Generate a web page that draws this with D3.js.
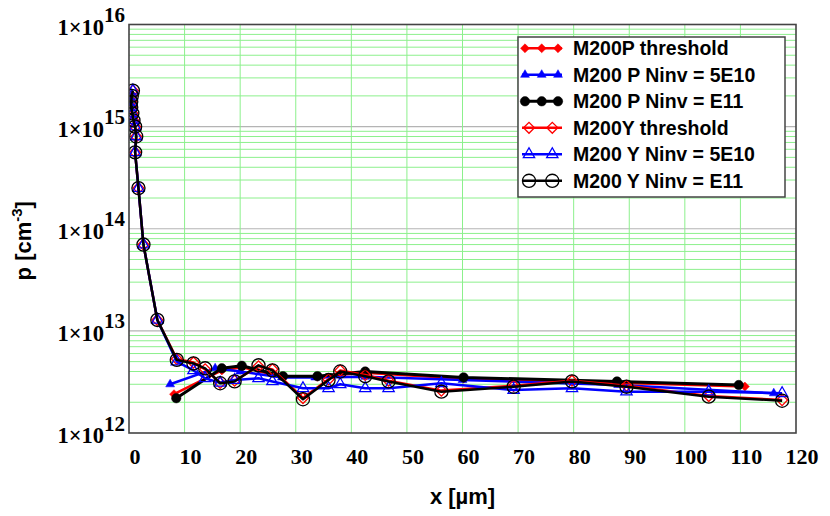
<!DOCTYPE html>
<html>
<head>
<meta charset="utf-8">
<script src="https://cdn.jsdelivr.net/npm/d3@7"></script>
<style>
  body { margin: 0; background: #fff; }
  svg { display: block; }
</style>
</head>
<body>
<svg id="chart" width="830" height="516"></svg>
<script>
// near-surface steep part shared by the Y profiles
const steepX = [0.7, 0.5, 0.4, 0.4, 0.6, 0.8, 1.1, 1.3, 1.1, 1.7, 2.6, 5.1];
const steepP = [2.25e15, 2.0e15, 1.75e15, 1.55e15, 1.35e15, 1.15e15, 1.0e15, 8.0e14, 5.6e14, 2.5e14, 7.0e13, 1.28e13];

const flatX = [8.6, 11.6, 13.7, 16.4, 19.0, 23.3, 25.8, 31.3, 35.9, 38.0, 42.5, 46.7, 56.2, 69.2, 79.7, 89.5, 104.3, 117.5];
const yE11P = [5.2e12, 4.8e12, 4.3e12, 3.07e12, 3.2e12, 4.6e12, 4.1e12, 2.14e12, 3.3e12, 4.0e12, 3.6e12, 3.2e12, 2.54e12, 2.84e12, 3.2e12, 2.84e12, 2.27e12, 2.07e12];
const yThrP = [5.3e12, 4.9e12, 4.2e12, 3.1e12, 3.25e12, 4.5e12, 4.2e12, 2.2e12, 3.35e12, 4.1e12, 3.7e12, 3.25e12, 2.6e12, 2.9e12, 3.25e12, 2.9e12, 2.3e12, 2.1e12];
const y5E10P = [5.0e12, 4.1e12, 3.43e12, 3.1e12, 3.3e12, 3.43e12, 3.2e12, 2.74e12, 2.74e12, 3.0e12, 2.74e12, 2.74e12, 3.07e12, 2.63e12, 2.74e12, 2.54e12, 2.54e12, 2.45e12];

const pE11X = [8.5, 16.7, 20.3, 27.7, 33.9, 42.5, 60.2, 87.8, 109.7];
const pE11P = [2.19e12, 4.3e12, 4.55e12, 3.6e12, 3.6e12, 4.0e12, 3.5e12, 3.2e12, 2.95e12];
const pThrX = [8.1, 16.7, 20.3, 27.7, 33.9, 42.5, 60.2, 87.8, 110.8];
const pThrP = [2.4e12, 4.1e12, 4.4e12, 3.55e12, 3.55e12, 3.9e12, 3.4e12, 3.1e12, 2.85e12];
const p5E10X = [7.4, 15.5, 20.0, 27.5, 33.5, 42.5, 60.0, 88.0, 116.0];
const p5E10P = [3.0e12, 4.3e12, 4.0e12, 3.5e12, 3.5e12, 3.55e12, 3.3e12, 2.95e12, 2.45e12];

const xTicks = [0, 10, 20, 30, 40, 50, 60, 70, 80, 90, 100, 110, 120];
const yDecades = [12, 13, 14, 15, 16];

const seriesNames = ["M200P threshold", "M200 P Ninv = 5E10", "M200 P Ninv = E11",
                     "M200Y threshold", "M200 Y Ninv = 5E10", "M200 Y Ninv = E11"];

const zip = (xs, ps) => xs.map((x, i) => ({x: x, p: ps[i]}));

const series = [
  {name: seriesNames[0], data: zip(pThrX, pThrP), color: "#ff0000", lw: 2.5, shape: "diamond", filled: true, size: 40},
  {name: seriesNames[1], data: zip(p5E10X, p5E10P), color: "#0000ff", lw: 2.5, shape: "triangle", filled: true, size: 34},
  {name: seriesNames[2], data: zip(pE11X, pE11P), color: "#000000", lw: 3, shape: "circle", filled: true, size: 70},
  {name: seriesNames[3], data: zip(steepX.concat(flatX), steepP.concat(yThrP)), color: "#ff0000", lw: 2.5, shape: "diamond", filled: false, size: 60},
  {name: seriesNames[4], data: zip(steepX.concat(flatX), steepP.concat(y5E10P)), color: "#0000ff", lw: 2.5, shape: "triangle", filled: false, size: 55},
  {name: seriesNames[5], data: zip(steepX.concat(flatX), steepP.concat(yE11P)), color: "#000000", lw: 2.5, shape: "circle", filled: false, size: 135}
];

const svg = d3.select("#chart");
const margin = {left: 129, right: 34, top: 24.5, bottom: 83};
const W = 830, H = 516;
const iw = W - margin.left - margin.right;
const ih = H - margin.top - margin.bottom;

const x = d3.scaleLinear().domain([0, 120]).range([margin.left, margin.left + iw]);
const y = d3.scaleLog().domain([1e12, 1e16]).range([margin.top + ih, margin.top]);

// grid
const grid = svg.append("g");
const minor = [];
for (let d = 12; d < 16; d++) for (let m = 2; m <= 9; m++) minor.push(m * Math.pow(10, d));
grid.selectAll(".hminor").data(minor).enter().append("line")
  .attr("x1", x(0)).attr("x2", x(120))
  .attr("y1", d => y(d)).attr("y2", d => y(d))
  .attr("stroke", "#8cf08c").attr("stroke-width", 1);
grid.selectAll(".hmajor").data(yDecades.slice(1, -1)).enter().append("line")
  .attr("x1", x(0)).attr("x2", x(120))
  .attr("y1", d => y(Math.pow(10, d))).attr("y2", d => y(Math.pow(10, d)))
  .attr("stroke", "#b4b4b4").attr("stroke-width", 1.2);
grid.selectAll(".vgrid").data(xTicks.slice(1, -1)).enter().append("line")
  .attr("x1", d => x(d)).attr("x2", d => x(d))
  .attr("y1", y(1e12)).attr("y2", y(1e16))
  .attr("stroke", "#8cf08c").attr("stroke-width", 1);

// data
svg.append("clipPath").attr("id", "clip").append("rect")
  .attr("x", margin.left).attr("y", margin.top).attr("width", iw).attr("height", ih);
const plot = svg.append("g").attr("clip-path", "url(#clip)");

const line = d3.line().x(d => x(d.x)).y(d => y(d.p));
const symType = {circle: d3.symbolCircle, triangle: d3.symbolTriangle, diamond: d3.symbolSquare};

function drawMarkers(g, pts, s) {
  g.selectAll(null).data(pts).enter().append("path")
    .attr("d", d3.symbol().type(symType[s.shape]).size(s.size))
    .attr("transform", d => `translate(${d[0]},${d[1]})` + (s.shape === "diamond" ? " rotate(45)" : ""))
    .attr("fill", s.filled ? s.color : "none")
    .attr("stroke", s.color)
    .attr("stroke-width", s.filled ? 0.5 : 1.3);
}

series.forEach(s => {
  const g = plot.append("g");
  g.append("path").datum(s.data)
    .attr("d", line).attr("fill", "none")
    .attr("stroke", s.color).attr("stroke-width", s.lw)
    .attr("stroke-linejoin", "round");
  drawMarkers(g, s.data.map(d => [x(d.x), y(d.p)]), s);
});

// frame
svg.append("rect")
  .attr("x", margin.left).attr("y", margin.top).attr("width", iw).attr("height", ih)
  .attr("fill", "none").attr("stroke", "#444").attr("stroke-width", 1.6);

// x tick labels
svg.selectAll(".xlab").data(xTicks).enter().append("text")
  .attr("x", d => x(d) + 6).attr("y", y(1e12) + 31)
  .attr("text-anchor", "middle")
  .attr("font-family", "Liberation Serif, serif").attr("font-weight", "bold").attr("font-size", 22)
  .text(d => d);

// y tick labels
const ylab = svg.selectAll(".ylab").data(yDecades).enter().append("text")
  .attr("x", margin.left - 4).attr("y", d => y(Math.pow(10, d)) + 10)
  .attr("text-anchor", "end")
  .attr("font-family", "Liberation Serif, serif").attr("font-weight", "bold").attr("font-size", 22.5);
ylab.append("tspan").text("1\u00d710");
ylab.append("tspan").attr("dy", -12.5).attr("font-size", 21).text(d => d);

// axis titles
svg.append("text")
  .attr("x", x(60)).attr("y", 504)
  .attr("text-anchor", "middle")
  .attr("font-family", "Liberation Sans, Arial, sans-serif").attr("font-weight", "bold").attr("font-size", 22)
  .text("x [\u00b5m]");
const yt = svg.append("text")
  .attr("transform", `translate(31,${margin.top + ih / 2 + 12}) rotate(-90)`)
  .attr("text-anchor", "middle")
  .attr("font-family", "Liberation Sans, Arial, sans-serif").attr("font-weight", "bold").attr("font-size", 22);
yt.append("tspan").text("p [cm");
yt.append("tspan").attr("dy", -9).attr("font-size", 15).text("-3");
yt.append("tspan").attr("dy", 9).text("]");

// legend
const lg = svg.append("g");
lg.append("rect").attr("x", 518).attr("y", 37).attr("width", 267).attr("height", 160)
  .attr("fill", "#fff").attr("stroke", "#444").attr("stroke-width", 1.5);
series.forEach((s, i) => {
  const cy = 48.3 + i * 26.5;
  const g = lg.append("g");
  g.append("line").attr("x1", 522).attr("x2", 562).attr("y1", cy).attr("y2", cy)
    .attr("stroke", s.color).attr("stroke-width", s.lw);
  const xs = s.filled ? [525, 541.7, 558] : [529, 552.3];
  drawMarkers(g, xs.map(v => [v, cy]), s);
  g.append("text").attr("x", 573).attr("y", cy + 7)
    .attr("font-family", "Liberation Sans, Arial, sans-serif").attr("font-weight", "bold").attr("font-size", 19.5)
    .text(s.name);
});
</script>
</body>
</html>
